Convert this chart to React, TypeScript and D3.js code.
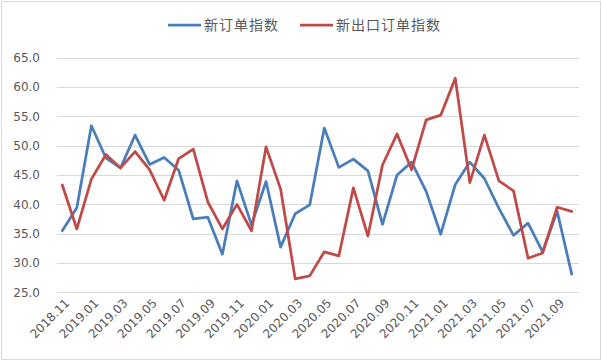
import React, { useEffect, useRef } from "react";
import * as d3 from "d3";

const months = [
  "2018.11", "2018.12",
  "2019.01", "2019.02", "2019.03", "2019.04", "2019.05", "2019.06",
  "2019.07", "2019.08", "2019.09", "2019.10", "2019.11", "2019.12",
  "2020.01", "2020.02", "2020.03", "2020.04", "2020.05", "2020.06",
  "2020.07", "2020.08", "2020.09", "2020.10", "2020.11", "2020.12",
  "2021.01", "2021.02", "2021.03", "2021.04", "2021.05", "2021.06",
  "2021.07", "2021.08", "2021.09", "2021.10",
];

const newOrders = [
  35.5, 39.4, 53.4, 47.9, 46.2, 51.8, 46.8, 48.0, 45.8, 37.5,
  37.8, 31.5, 44.0, 36.5, 43.9, 32.7, 38.4, 39.9, 53.0, 46.3,
  47.7, 45.7, 36.6, 45.0, 47.2, 42.2, 34.9, 43.4, 47.2, 44.4,
  39.3, 34.7, 36.8, 31.9, 38.8, 28.1,
];

const exportOrders = [
  43.3, 35.8, 44.3, 48.5, 46.2, 49.0, 45.9, 40.7, 47.8, 49.4,
  40.4, 35.8, 40.0, 35.5, 49.8, 42.6, 27.3, 27.8, 31.9, 31.2,
  42.8, 34.6, 46.7, 52.0, 45.9, 54.4, 55.2, 61.5, 43.7, 51.8,
  44.0, 42.3, 30.8, 31.7, 39.5, 38.8,
];

const yTicks = [25, 30, 35, 40, 45, 50, 55, 60, 65];

const series = [
  { name: "新订单指数", values: newOrders, color: "#4a7ebb" },
  { name: "新出口订单指数", values: exportOrders, color: "#be4b48" },
];

const W = 602;
const H = 361;

export default function App() {
  const ref = useRef<SVGSVGElement>(null);

  useEffect(() => {
    if (!ref.current) return;
    const svg = d3.select(ref.current);
    svg.selectAll("*").remove();

    const x = d3.scaleBand<string>().domain(months).range([55, 579]).padding(0);
    const y = d3.scaleLinear().domain([25, 65]).range([292.3, 57.7]);
    const cx = (m: string) => (x(m) as number) + x.bandwidth() / 2;

    // chart border
    svg.append("rect")
      .attr("x", 1.5).attr("y", 1.5)
      .attr("width", W - 3).attr("height", H - 3)
      .attr("fill", "#fff")
      .attr("stroke", "#d9d9d9");

    // grid + y labels
    yTicks.forEach((t) => {
      svg.append("line")
        .attr("x1", 57).attr("x2", 579)
        .attr("y1", Math.round(y(t)) + 0.5).attr("y2", Math.round(y(t)) + 0.5)
        .attr("stroke", "#d9d9d9");
      svg.append("text")
        .attr("x", 40).attr("y", y(t))
        .attr("dy", "0.35em")
        .attr("text-anchor", "end")
        .attr("fill", "#595959")
        .style("font-family", "DejaVu Sans, sans-serif")
        .style("font-size", "12px")
        .text(t.toFixed(1));
    });

    // x labels every 2 months
    months.forEach((m, i) => {
      if (i % 2 !== 0) return;
      const px = cx(m) + 5;
      const py = 301;
      svg.append("text")
        .attr("transform", `translate(${px},${py}) rotate(-45)`)
        .attr("text-anchor", "end")
        .attr("dy", "0.35em")
        .attr("fill", "#595959")
        .style("font-family", "DejaVu Sans, sans-serif")
        .style("font-size", "12px")
        .text(m);
    });

    // lines
    series.forEach((s) => {
      const line = d3.line<number>()
        .x((_, i) => cx(months[i]))
        .y((d) => y(d));
      svg.append("path")
        .datum(s.values)
        .attr("d", line)
        .attr("fill", "none")
        .attr("stroke", s.color)
        .attr("stroke-width", 2.75)
        .attr("stroke-linejoin", "round")
        .attr("stroke-linecap", "round");
    });

    // legend
    const legendX = [168, 300];
    series.forEach((s, i) => {
      const lx = legendX[i];
      svg.append("line")
        .attr("x1", lx).attr("x2", lx + 33)
        .attr("y1", 25).attr("y2", 25)
        .attr("stroke", s.color)
        .attr("stroke-width", 2.75);
      svg.append("text")
        .attr("x", lx + 36).attr("y", 25)
        .attr("dy", "0.35em")
        .attr("fill", "#595959")
        .style("font-family", "Noto Sans CJK SC, sans-serif")
        .style("font-size", "14px")
        .style("letter-spacing", "1px")
        .text(s.name);
    });
  }, []);

  return (
    <div style={{ position: "absolute", left: 0, top: 0 }}>
      <svg ref={ref} width={W} height={H} style={{ display: "block" }}></svg>
    </div>
  );
}
